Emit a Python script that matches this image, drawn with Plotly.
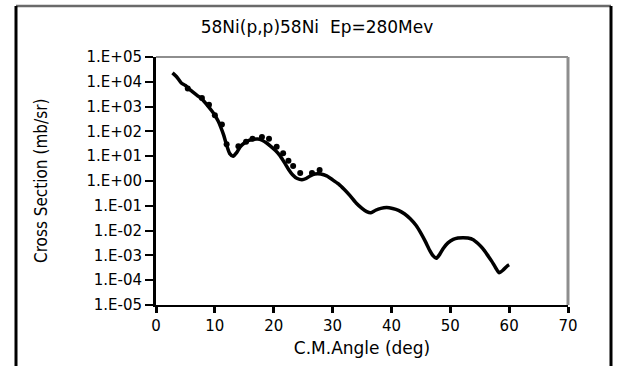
import plotly.graph_objects as go

# Calculated curve (C.M. angle in deg, cross section in mb/sr)
theory_angle = [2.8, 3.5, 4.3, 5.0, 5.6, 6.5, 7.3, 8.0, 8.7, 9.4, 10.0, 10.6, 11.0, 11.5, 12.0, 12.5,
                13.1, 13.7, 14.3, 15.0, 15.8, 16.6, 17.3, 18.0, 18.8, 19.5, 20.3, 21.0, 21.8, 22.5,
                23.2, 24.0, 24.8, 25.5, 26.2, 27.0, 28.0, 29.0, 30.0, 31.0, 32.0, 33.0, 34.0, 35.0,
                35.8, 36.5, 37.3, 38.2, 39.2, 40.2, 41.2, 42.2, 43.2, 44.2, 45.0, 45.8, 46.5, 47.1,
                47.6, 48.2, 48.8, 49.6, 50.5, 51.3, 52.2, 53.0, 53.9, 54.7, 55.5, 56.3, 57.0, 57.7,
                58.3, 59.0, 59.7, 60.0]
theory_xs = [2.3e4, 1.6e4, 8.9e3, 7.1e3, 5.2e3, 3.5e3, 2.5e3, 1.8e3, 1.15e3, 710, 450, 250, 150, 71, 28, 13,
             10, 14, 24, 34, 43, 48, 49, 44, 34, 25, 17, 11, 5.6, 3.0,
             1.8, 1.26, 1.12, 1.26, 1.6, 1.9, 1.9, 1.6, 1.12, 0.76, 0.45, 0.25, 0.13, 0.079,
             0.058, 0.052, 0.066, 0.079, 0.085, 0.078, 0.066, 0.048, 0.030, 0.016, 0.0079, 0.0035, 0.0016, 0.00095,
             0.00076, 0.0011, 0.0019, 0.0032, 0.0044, 0.0050, 0.0052, 0.0050, 0.0043, 0.0030, 0.0019, 0.00105, 0.0006, 0.00032,
             0.0002, 0.00026, 0.00038, 0.00042]

# Experimental points
exp_angle = [5.4, 7.8, 9.0, 10.0, 11.2, 12.0, 14.0, 15.3, 16.4, 18.0, 19.2, 20.5, 21.6, 22.5, 23.3, 24.5, 26.5, 27.8]
exp_xs = [5400, 2200, 1200, 450, 190, 30, 25, 38, 51, 59, 51, 24, 13, 6.6, 4.0, 2.1, 2.1, 2.8]

y_tickvals = [1e5, 1e4, 1e3, 1e2, 1e1, 1e0, 1e-1, 1e-2, 1e-3, 1e-4, 1e-5]
y_ticktext = ["1.E+05", "1.E+04", "1.E+03", "1.E+02", "1.E+01", "1.E+00",
              "1.E-01", "1.E-02", "1.E-03", "1.E-04", "1.E-05"]
x_tickvals = [0, 10, 20, 30, 40, 50, 60, 70]

title_text = "58Ni(p,p)58Ni  Ep=280Mev"
x_title = "C.M.Angle (deg)"
y_title = "Cross Section (mb/sr)"

W, H = 625, 366
L, R, T, B = 156, 568, 57, 305
pw, ph = R - L, B - T


def px(x):
    return (x - L) / pw


def py(y):
    return (B - y) / ph


WIDE = "DejaVu Sans, Liberation Sans, Arial, sans-serif"
NARROW = "Liberation Sans Narrow, DejaVu Sans Condensed, Liberation Sans, Arial, sans-serif"

fig = go.Figure()
fig.add_trace(go.Scatter(x=theory_angle, y=theory_xs, mode="lines",
                         line=dict(color="black", width=3.5, shape="spline", smoothing=0.6),
                         showlegend=False, cliponaxis=False))
fig.add_trace(go.Scatter(x=exp_angle, y=exp_xs, mode="markers",
                         marker=dict(color="black", size=6, symbol="circle"),
                         showlegend=False, cliponaxis=False))

shapes = [
    # plot area top & right (gray)
    dict(type="line", xref="paper", yref="paper", x0=0, x1=1, y0=1, y1=1,
         line=dict(color="#8e8e8e", width=2)),
    dict(type="line", xref="paper", yref="paper", x0=1, x1=1, y0=0, y1=1,
         line=dict(color="#8e8e8e", width=3)),
    # outer chart border
    dict(type="line", xref="paper", yref="paper", x0=px(16), x1=px(611), y0=py(6), y1=py(6),
         line=dict(color="#6a6a6a", width=2.5)),
    dict(type="line", xref="paper", yref="paper", x0=px(16), x1=px(16), y0=py(6), y1=py(370),
         line=dict(color="black", width=3)),
    dict(type="line", xref="paper", yref="paper", x0=px(611), x1=px(611), y0=py(6), y1=py(370),
         line=dict(color="black", width=3)),
]

annotations = [
    dict(text=y_title, xref="paper", yref="paper", x=px(41), y=py(181),
         xanchor="center", yanchor="middle", textangle=-90, showarrow=False,
         font=dict(family=NARROW, size=17, color="black")),
]

fig.update_layout(
    width=W, height=H,
    margin=dict(l=L, r=W - R, t=T, b=H - B),
    paper_bgcolor="white", plot_bgcolor="white",
    shapes=shapes,
    annotations=annotations,
    title=dict(text=title_text, xref="container", x=317 / W, xanchor="center",
               y=1 - 27 / H, yanchor="middle",
               font=dict(family=WIDE, size=17, color="black")),
    xaxis=dict(range=[0, 70], tickvals=x_tickvals, ticks="outside", ticklen=6, tickwidth=2.5,
               tickcolor="black", showline=True, linecolor="black", linewidth=2,
               showgrid=False, zeroline=False,
               tickfont=dict(family=WIDE, size=15, color="black"),
               title=dict(text=x_title, font=dict(family=WIDE, size=17, color="black"),
                          standoff=8)),
    yaxis=dict(type="log", range=[-5, 5], tickvals=y_tickvals, ticktext=y_ticktext,
               ticks="outside", ticklen=8, tickwidth=1.5, tickcolor="black",
               showline=True, linecolor="black", linewidth=3,
               showgrid=False, zeroline=False,
               tickfont=dict(family=WIDE, size=15, color="black")),
)

fig.write_html("out.html")
